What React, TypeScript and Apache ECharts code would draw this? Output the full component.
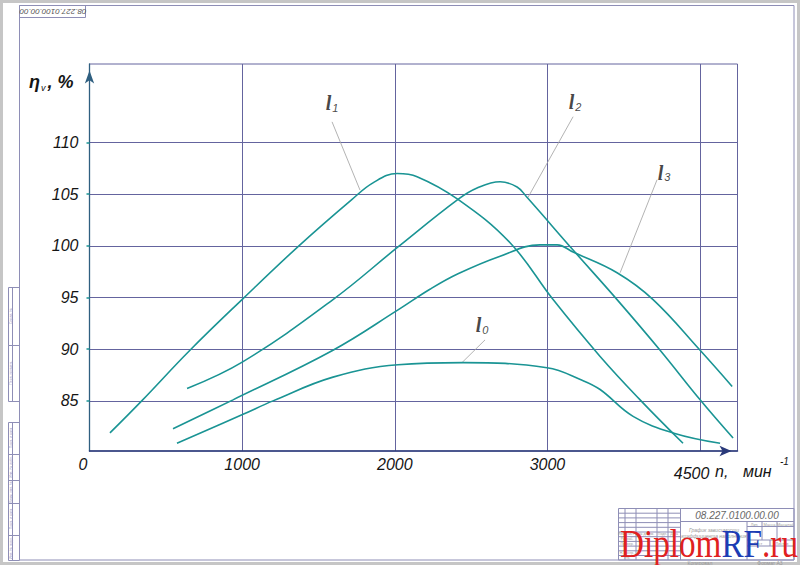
import React, { useEffect, useRef } from "react";
import * as echarts from "echarts";

// ---- axis ticks ----
const xTickValues = [0, 1000, 2000, 3000, 4000];
const xTickLabels = ["0", "1000", "2000", "3000", "4500"];
const xGridValues = [1000, 2000, 3000, 4000];
const yTickValues = [85, 90, 95, 100, 105, 110];

// ---- curves: n (мин^-1) and ηv (%) ----
const l0N = [573, 1006, 1202, 1595, 2021, 2447, 2997, 3227, 3345, 3561, 3823, 4131];
const l0Eta = [80.9, 83.7, 85.0, 87.3, 88.5, 88.7, 88.2, 87.0, 86.1, 83.5, 81.9, 80.9];

const l1N = [134, 342, 658, 1006, 1379, 1720, 1857, 2015, 2146, 2414, 2755, 3037, 3345, 3607, 3888];
const l1Eta = [81.9, 85.0, 89.9, 94.9, 100.1, 104.5, 106.1, 107.0, 106.7, 104.5, 100.3, 94.8, 89.3, 85.1, 80.9];

const l2N = [639, 1006, 1595, 2021, 2414, 2539, 2690, 2801, 2866, 3168, 3456, 3738, 4000, 4216];
const l2Eta = [86.2, 88.8, 94.8, 99.9, 104.5, 105.6, 106.2, 105.7, 104.7, 99.6, 94.8, 89.9, 85.1, 81.4];

const l3N = [547, 940, 1595, 2021, 2230, 2414, 2690, 2951, 3063, 3168, 3456, 3692, 4000, 4210];
const l3Eta = [82.3, 85.1, 89.9, 93.8, 95.8, 97.3, 99.0, 100.1, 100.1, 99.4, 97.4, 94.8, 89.9, 86.4];

// ---- curve labels (l0..l3) with leader lines ----
const annoSub = ["0", "1", "2", "3"];
const annoTextN = [2572, 1589, 3181, 3764];
const annoTextEta = [92.3, 113.8, 113.9, 107.1];
const annoFromN = [2591, 1589, 3168, 3718];
const annoFromEta = [90.9, 112.0, 112.5, 106.4];
const annoToN = [2440, 1772, 2873, 3476];
const annoToEta = [88.7, 105.4, 104.7, 97.4];

const FONT = "'Liberation Sans', Arial, sans-serif";
const SERIF = "'Liberation Serif', 'Times New Roman', serif";
const TEAL = "#1a9494";
const GRID = "#64649e";
const FRAME = "#8e8eb6";
const INK = "#151515";

function buildGraphic() {
  const g: any[] = [];
  const rect = (x: number, y: number, w: number, h: number, stroke = FRAME, lw = 1) =>
    g.push({ type: "rect", silent: true, shape: { x, y, width: w, height: h }, style: { fill: "none", stroke, lineWidth: lw } });
  const line = (x1: number, y1: number, x2: number, y2: number, stroke = FRAME, lw = 1) =>
    g.push({ type: "line", silent: true, shape: { x1, y1, x2, y2 }, style: { stroke, lineWidth: lw } });
  const text = (x: number, y: number, t: string, style: any, extra: any = {}) =>
    g.push({ type: "text", silent: true, x, y, ...extra, style: { text: t, align: "center", verticalAlign: "middle", fontFamily: FONT, ...style } });

  // outer sheet border & drawing frame
  rect(1.5, 1.5, 797, 562, "#c6c6c6", 3);
  rect(19.5, 5.5, 774.5, 554.5, FRAME, 1);

  // top-left code box (upside down)
  rect(19.5, 5.5, 66, 12);
  text(53, 11.5, "08.227.0100.00.00", { fontSize: 8, fontStyle: "italic", fill: "#555" }, { rotation: Math.PI });

  // left binding strip
  rect(8.5, 287.5, 11, 58);
  rect(8.5, 345.5, 11, 56);
  line(12.5, 287.5, 12.5, 401.5);
  rect(8.5, 422.5, 11, 138);
  [454.5, 480.5, 503.5, 535.5].forEach((y) => line(8.5, y, 19.5, y));
  line(12.5, 422.5, 12.5, 560.5);
  const stripTxt: [number, string][] = [
    [316, "Справ. №"], [373, "Перв. примен."], [438, "Подп. и дата"], [467, "Инв. № дубл."],
    [492, "Взам. инв. №"], [519, "Подп. и дата"], [548, "Инв. № подл."],
  ];
  stripTxt.forEach(([y, t]) => text(10.5, y, t, { fontSize: 3.5, fill: "#9a9ac0" }, { rotation: Math.PI / 2 }));

  // title block
  rect(618.5, 508.5, 175.5, 51.5);
  [625, 636, 657, 668, 680.5].forEach((x) => line(x, 508.5, x, 560));
  for (let k = 1; k <= 10; k++) {
    const y = 508.5 + 4.7 * k;
    line(618.5, y, 680.5, y);
  }
  line(680.5, 521.5, 794, 521.5);
  line(747, 521.5, 747, 560);
  line(747, 526.5, 794, 526.5);
  line(762, 521.5, 762, 540);
  line(777, 521.5, 777, 540);
  line(747, 540, 794, 540);
  line(747, 546, 794, 546);
  line(770, 540, 770, 546);
  text(737, 515, "08.227.0100.00.00", { fontSize: 10, fontStyle: "italic", fill: "#666" });
  text(714, 530, "График зависимости", { fontSize: 5, fontStyle: "italic", fill: "#999" });
  text(714, 536, "коэффициента наполнения", { fontSize: 5, fontStyle: "italic", fill: "#999" });
  text(754.5, 524, "Лит.", { fontSize: 4, fill: "#999" });
  text(769.5, 524, "Масса", { fontSize: 4, fill: "#999" });
  text(785.5, 524, "Масштаб", { fontSize: 4, fill: "#999" });
  text(758, 543, "Лист", { fontSize: 4, fill: "#999" });
  text(782, 543, "Листов", { fontSize: 4, fill: "#999" });
  [[621.8, "Изм."], [630.5, "Лист"], [646.5, "№ докум."], [662.5, "Подп."], [674, "Дата"]].forEach(([x, t]) =>
    text(x as number, 534.3, t as string, { fontSize: 3.5, fill: "#999" })
  );
  [[538.9, "Разраб."], [543.6, "Провер."], [552.9, "Н. контр."], [557.6, "Утв."]].forEach(([y, t]) =>
    text(627, y as number, t as string, { fontSize: 3.5, fill: "#999" })
  );
  text(700, 563, "Копировал", { fontSize: 5, fill: "#999" });
  text(770, 563, "Формат A3", { fontSize: 5, fill: "#999" });

  // axis names
  g.push({
    type: "text", silent: true, x: 29, y: 82,
    style: {
      text: "{e|η}{v|v}{e|, %}", align: "left", verticalAlign: "middle",
      rich: {
        e: { fontSize: 18, fontStyle: "italic", fontWeight: "bold", fontFamily: FONT, fill: INK, lineHeight: 20 },
        v: { fontSize: 9, fontStyle: "italic", fontFamily: FONT, fill: INK, lineHeight: 20, verticalAlign: "bottom", padding: [0, 2, 0, 1] },
      },
    },
  });
  text(715, 471.5, "n,", { fontSize: 16, fontStyle: "italic", fill: INK, align: "left" });
  text(743, 471.5, "мин", { fontSize: 16, fontStyle: "italic", fill: INK, align: "left" });
  text(780, 461.5, "-1", { fontSize: 10, fontStyle: "italic", fill: INK, align: "left" });

  // watermark
  g.push({
    type: "text", silent: true, x: 620, y: 543.5, scaleX: 0.83, z: 100,
    style: {
      text: "{r|Diplom}{b|RF}{r|.ru}", align: "left", verticalAlign: "middle",
      rich: {
        r: { fontSize: 40, fontFamily: SERIF, fill: "#e02020" },
        b: { fontSize: 40, fontFamily: SERIF, fill: "#1c3cb4" },
      },
    },
  });
  return g;
}

function buildOption() {
  const curves: [number[], number[]][] = [
    [l0N, l0Eta],
    [l1N, l1Eta],
    [l2N, l2Eta],
    [l3N, l3Eta],
  ];
  const curveSeries = curves.map(([xs, ys], i) => ({
    type: "line",
    name: "l" + i,
    data: xs.map((x, j) => [x, ys[j]]),
    smooth: 0.4,
    symbol: "none",
    silent: true,
    z: 3,
    lineStyle: { color: TEAL, width: 1.6 },
  }));
  const leaderSeries = annoSub.map((s, i) => ({
    type: "line",
    name: "leader" + s,
    data: [
      [annoFromN[i], annoFromEta[i]],
      [annoToN[i], annoToEta[i]],
    ],
    symbol: "none",
    silent: true,
    z: 2,
    lineStyle: { color: "#a0a0a0", width: 0.8 },
  }));
  const labelSeries = {
    type: "scatter",
    name: "labels",
    silent: true,
    symbolSize: 1,
    itemStyle: { color: "rgba(0,0,0,0)" },
    z: 4,
    data: annoSub.map((s, i) => ({ name: s, value: [annoTextN[i], annoTextEta[i]] })),
    label: {
      show: true,
      position: "inside",
      formatter: (p: any) => `{l|l}{s|${p.name}}`,
      rich: {
        l: { fontFamily: SERIF, fontStyle: "italic", fontWeight: "bold", fontSize: 20, color: INK, lineHeight: 20 },
        s: { fontFamily: FONT, fontStyle: "italic", fontSize: 11, color: INK, lineHeight: 20, verticalAlign: "bottom", padding: [0, 0, 0, 1] },
      },
    },
  };

  const labelFont = { fontFamily: FONT, fontStyle: "italic", fontSize: 16, color: INK };

  return {
    animation: false,
    backgroundColor: "#ffffff",
    grid: { left: 89.5, top: 64, width: 648, height: 387, show: true, borderColor: GRID, borderWidth: 1, backgroundColor: "transparent" },
    xAxis: {
      type: "value",
      min: 0,
      max: 4245,
      axisLine: {
        show: true,
        lineStyle: { color: "#2a3a7a", width: 1.5 },
        symbol: ["none", "arrow"],
        symbolSize: [8, 12],
        symbolOffset: [0, -6],
      },
      axisTick: { show: false, customValues: xGridValues },
      splitLine: { show: true, lineStyle: { color: GRID, width: 1 } },
      axisLabel: {
        ...labelFont,
        customValues: xTickValues,
        margin: 5,
        formatter: (v: number) => {
          const idx = xTickValues.indexOf(v);
          const t = idx >= 0 ? xTickLabels[idx] : "";
          if (v === 0) return `{p0|${t}}`;
          if (v === 4000) return `{p4|${t}}`;
          return t;
        },
        rich: {
          p0: { ...labelFont, padding: [0, 13, 0, 0] },
          p4: { ...labelFont, padding: [9, 17, 0, 0] },
        },
      },
    },
    yAxis: {
      type: "value",
      min: 80.15,
      max: 117.6,
      axisLine: {
        show: true,
        lineStyle: { color: "#2f5f80", width: 1.3 },
        symbol: ["none", "arrow"],
        symbolSize: [7, 13],
        symbolOffset: [0, -6.5],
      },
      axisTick: { show: true, customValues: yTickValues, length: 3, lineStyle: { color: TEAL, width: 1.5 } },
      splitLine: { show: true, lineStyle: { color: GRID, width: 1 } },
      axisLabel: { ...labelFont, customValues: yTickValues, margin: 11, padding: [11, 0, 0, 0] },
    },
    series: [...leaderSeries, ...curveSeries, labelSeries],
    graphic: { elements: buildGraphic() },
  };
}

export default function App() {
  const ref = useRef<HTMLDivElement>(null);
  useEffect(() => {
    const chart = echarts.init(ref.current!, undefined, { renderer: "svg" });
    chart.setOption(buildOption() as any);
    return () => chart.dispose();
  }, []);
  return (
    <div
      ref={ref}
      style={{ position: "fixed", left: 0, top: 0, width: 800, height: 565, background: "#fff" }}
    />
  );
}
